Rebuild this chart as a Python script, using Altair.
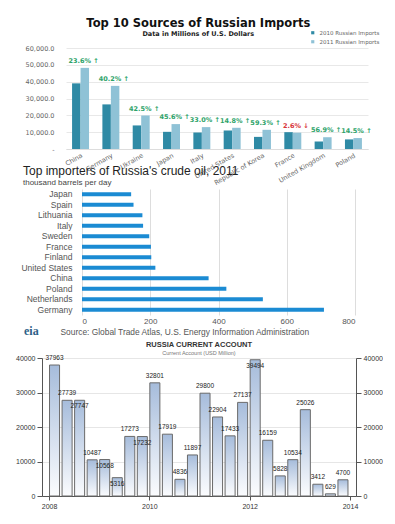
import altair as alt
import pandas as pd

# ---------------- Panel 1: Top 10 Sources of Russian Imports ----------------
countries = ["China", "Germany", "Ukraine", "Japan", "Italy", "United States",
             "Republic of Korea", "France", "United Kingdom", "Poland"]
imports_2010 = [39000, 26500, 14000, 10200, 9800, 11000, 7200, 10000, 4500, 5700]
imports_2011 = [48200, 37500, 19900, 14800, 13000, 12600, 11400, 9700, 7000, 6500]
change_labels = ["23.6% ↑", "40.2% ↑", "42.5% ↑", "45.6% ↑", "33.0% ↑", "14.8% ↑",
                 "59.3% ↑", "2.6% ↓", "56.9% ↑", "14.5% ↑"]
change_dir = ["up", "up", "up", "up", "up", "up", "up", "down", "up", "up"]
series_names = ["2010 Russian Imports", "2011 Russian Imports"]

# ---------------- Panel 2: Top importers of Russia's crude oil ----------------
oil_countries = ["Japan", "Spain", "Lithuania", "Italy", "Sweden", "France", "Finland",
                 "United States", "China", "Poland", "Netherlands", "Germany"]
oil_values = [144, 151, 177, 179, 197, 202, 203, 215, 371, 423, 530, 709]

# ---------------- Panel 3: Russia current account ----------------
ca_years = [2008] * 4 + [2009] * 4 + [2010] * 4 + [2011] * 4 + [2012] * 4 + [2013] * 4
ca_quarters = [1, 2, 3, 4] * 6
ca_values = [37963, 27739, 27747, 10487, 10568, 5316, 17273, 17232, 32801, 17919,
             4836, 11897, 29800, 22904, 17433, 27137, 39494, 16159, 5828, 10534,
             25026, 3412, 629, 4700]


def spacer(w):
    return alt.Chart(pd.DataFrame({"s": [0]})).mark_point(opacity=0, size=0).encode(
        x=alt.value(0), y=alt.value(0)).properties(width=w, height=1)


# ======================= Panel 1 =======================
df1 = pd.DataFrame({
    "Country": countries * 2,
    "Series": [series_names[0]] * len(countries) + [series_names[1]] * len(countries),
    "Value": imports_2010 + imports_2011,
})
lab1 = pd.DataFrame({"Country": countries, "Value": imports_2011,
                     "Label": change_labels, "Dir": change_dir})

xs1 = alt.Scale(paddingInner=0.44, paddingOuter=0.2)
xa1 = alt.Axis(title=None, labelAngle=-30, labelAlign="right", labelBaseline="top",
               labelFontSize=6.5, labelColor="#666", labelFont="DejaVu Sans",
               ticks=False, domainColor="#dddddd", labelPadding=3)
ys1 = alt.Scale(domain=[0, 60000])
ya1 = alt.Axis(title=None, values=[0, 10000, 20000, 30000, 40000, 50000, 60000],
               labelExpr="datum.value == 0 ? '-' : format(datum.value, ',.1f')",
               labelOverlap=False, labelFlush=False,
               labelFontSize=6.5, labelColor="#666", labelFont="DejaVu Sans",
               domain=False, ticks=False, gridColor="#e8e8e8", labelPadding=12)
X1 = alt.X("Country:N", sort=countries, scale=xs1, axis=xa1)
Y1 = alt.Y("Value:Q", scale=ys1, axis=ya1)

bars1 = alt.Chart(df1).mark_bar().encode(
    x=X1, y=Y1,
    xOffset=alt.XOffset("Series:N", sort=series_names),
    color=alt.Color("Series:N", sort=series_names,
                    scale=alt.Scale(domain=series_names, range=["#2f8aa5", "#8fc2d6"]),
                    legend=alt.Legend(title=None, orient="none", legendX=302, legendY=-18,
                                      labelFontSize=5.5, labelColor="#666", symbolType="square",
                                      symbolSize=10, rowPadding=2, labelFont="DejaVu Sans",
                                      padding=0)),
)
up1 = alt.Chart(lab1).transform_filter("datum.Dir == 'up'").mark_text(
    fontSize=6.5, fontWeight="bold", color="#2ea36a", dy=-4, dx=3, baseline="bottom",
    font="DejaVu Sans").encode(x=X1, y=Y1, text="Label:N")
down1 = alt.Chart(lab1).transform_filter("datum.Dir == 'down'").mark_text(
    fontSize=6.5, fontWeight="bold", color="#d8353a", dy=-4, dx=3, baseline="bottom",
    font="DejaVu Sans").encode(x=X1, y=Y1, text="Label:N")

p1 = alt.layer(bars1, up1, down1).properties(
    width=302, height=101,
    title=alt.TitleParams("Top 10 Sources of Russian Imports",
                          subtitle="Data in Millions of U.S. Dollars",
                          font="DejaVu Sans", fontSize=11.5, fontWeight="bold", color="#111",
                          subtitleFont="DejaVu Sans", subtitleFontSize=6.5,
                          subtitleFontWeight="bold", subtitleColor="#222",
                          subtitlePadding=1, anchor="middle", frame="bounds", offset=8),
)

# ======================= Panel 2 =======================
df2 = pd.DataFrame({"Country": oil_countries, "Value": oil_values})
bars2 = alt.Chart(df2).mark_bar(color="#1b8bd3").encode(
    y=alt.Y("Country:N", sort=oil_countries,
            scale=alt.Scale(paddingInner=0.6, paddingOuter=0.3),
            axis=alt.Axis(title=None, ticks=False, domain=False, labelFontSize=8.5,
                          labelColor="#555", labelPadding=10, labelFont="Liberation Sans")),
    x=alt.X("Value:Q", scale=alt.Scale(domain=[0, 800]),
            axis=alt.Axis(values=[0, 200, 400, 600, 800], gridColor="#dddddd", domain=False,
                          ticks=False, labelFontSize=8, labelColor="#555",
                          labelFont="Liberation Sans",
                          title="Source: Global Trade Atlas, U.S. Energy Information Administration",
                          titleFontSize=8.4, titleFontWeight="normal", titleColor="#555",
                          titleFont="Liberation Sans", titleAnchor="start", titleX=-22,
                          titleY=16, titleBaseline="middle")),
)
eia = alt.Chart(df2.head(1)).mark_text(
    text="eia", fontSize=12, font="Liberation Serif", fontWeight="bold", color="#2d5f88",
    align="left", baseline="middle").encode(x=alt.value(-58), y=alt.value(142))

p2 = alt.layer(bars2, eia).properties(
    width=273, height=126,
    title=alt.TitleParams("Top importers of Russia's crude oil, 2011",
                          subtitle="thousand barrels per day",
                          font="Liberation Sans", fontSize=12, fontWeight="normal",
                          color="#222", subtitleFont="Liberation Sans", subtitleFontSize=8,
                          subtitleColor="#444", subtitlePadding=1, anchor="start",
                          frame="bounds", dx=2, offset=1),
)

# ======================= Panel 3 =======================
df3 = pd.DataFrame({"Year": ca_years, "Quarter": ca_quarters, "Value": ca_values})
base3 = alt.Chart(df3).transform_calculate(
    t0="datum.Year + (datum.Quarter - 1) / 4 + 0.01",
    t1="datum.Year + (datum.Quarter - 1) / 4 + 0.21",
    tc="datum.Year + (datum.Quarter - 1) / 4 + 0.11",
)
xs3 = alt.Scale(domain=[2007.86, 2014.12], nice=False, zero=False)
ys3 = alt.Scale(domain=[0, 40000])
grad = alt.Gradient(gradient="linear", x1=0, x2=0, y1=1, y2=0,
                    stops=[alt.GradientStop(color="#fbfcfe", offset=0),
                           alt.GradientStop(color="#a6bcdb", offset=1)])
ax_style = dict(labelFontSize=7, labelColor="#333", domainColor="#555", tickColor="#555",
                labelFont="Liberation Sans", labelOverlap=False)
xa3 = alt.Axis(title=None, values=[2008, 2010, 2012, 2014], format="d",
               tickSize=4, grid=False, **ax_style)
ya3 = alt.Axis(title=None, values=[0, 10000, 20000, 30000, 40000], format="d",
               tickSize=5, gridColor="#e6e6e6", **ax_style)
ya3r = alt.Axis(title=None, orient="right", values=[0, 10000, 20000, 30000, 40000],
                format="d", tickSize=5, grid=False, **ax_style)
X3 = alt.X("t0:Q", scale=xs3, axis=xa3)
XC3 = alt.X("tc:Q", scale=xs3, axis=xa3)
Y3 = alt.Y("Value:Q", scale=ys3, axis=ya3)

bars3 = base3.mark_bar(color=grad, stroke="#6a6a6a", strokeWidth=1).encode(
    x=X3, x2="t1:Q", y=Y3, y2=alt.datum(0))
inside_expr = "indexof([27747, 10568, 5316, 17232, 39494], datum.Value) >= 0"
text3 = base3.transform_filter("!(" + inside_expr + ")").mark_text(
    fontSize=6.5, color="#222", dy=-4, baseline="bottom", font="Liberation Sans").encode(
    x=XC3, y=Y3, text="Value:Q")
text3b = base3.transform_filter(inside_expr).mark_text(
    fontSize=6.5, color="#222", dy=3, baseline="top", font="Liberation Sans").encode(
    x=XC3, y=Y3, text="Value:Q")
right3 = base3.mark_bar(opacity=0).encode(
    x=X3, x2="t1:Q", y=alt.Y("Value:Q", scale=ys3, axis=ya3r), y2=alt.datum(0))

p3 = alt.layer(alt.layer(bars3, text3, text3b), right3).resolve_scale(y="independent").properties(
    width=314, height=138,
    title=alt.TitleParams("RUSSIA CURRENT ACCOUNT",
                          subtitle="Current Account (USD Million)",
                          font="Liberation Sans", fontSize=7.5, fontWeight="bold",
                          color="#333", subtitleFont="Liberation Sans", subtitleFontSize=5.5,
                          subtitleColor="#777", subtitlePadding=2, anchor="middle",
                          frame="group", offset=-2),
)

row1 = alt.hconcat(spacer(17), p1, spacing=0)
row2 = alt.hconcat(spacer(12), p2, spacing=0)
row3 = alt.hconcat(spacer(7), p3, spacing=0)

chart = alt.vconcat(alt.vconcat(row1, row2, spacing=-21), row3, spacing=4).properties(
    padding={"left": 0, "right": 0, "top": 10, "bottom": 0}
).configure_view(stroke=None)

chart.save("out.html", embed_options={"renderer": "svg", "actions": False})
